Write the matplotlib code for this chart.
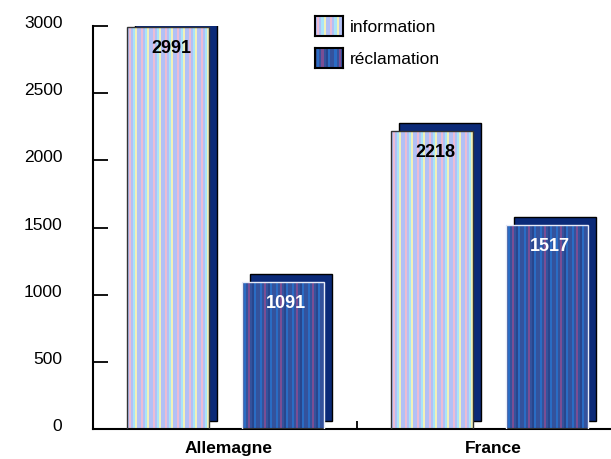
import matplotlib

matplotlib.use("Agg")
import matplotlib.pyplot as plt
import numpy as np
from matplotlib.colors import to_rgb
from matplotlib.transforms import ScaledTranslation

# data
countries = ["Allemagne", "France"]
information = [2991, 2218]
reclamation = [1091, 1517]
series_names = ["information", "réclamation"]
yticks = [0, 500, 1000, 1500, 2000, 2500, 3000]

plt.rcParams["font.family"] = ["Liberation Sans", "DejaVu Sans"]

# striped fills, one colour per column (about 2 px each)
lav, pink, cyan, yel = "#b2c0f6", "#ecbcd4", "#a8e4f8", "#f2f0b8"
info_cycle = [lav, pink, lav, cyan, yel, lav]
base, blue, mag, dark = "#34529c", "#2a6cc4", "#7a4e94", "#28468e"
recl_cycle = [base, blue, base, mag, base, dark, blue, base]


def stripes(cycle, ncols):
    cols = [to_rgb(cycle[i % len(cycle)]) for i in range(ncols)]
    return np.array([cols])


fig = plt.figure(figsize=(6.11, 4.6), dpi=100)
ax = fig.add_axes([93 / 611, 30 / 460, 518 / 611, 403 / 460])

x = np.arange(len(countries))
w = 0.31
offsets = [-0.386, 0.05]
series = [information, reclamation]
cycles = [info_cycle, recl_cycle]
edges = ["#333333", "#e8ecf8"]
txtcol = ["black", "white"]

# drop shadow: same bar shifted 8 px right and up
shadow = ax.transData + ScaledTranslation(8 / 100, 8 / 100, fig.dpi_scale_trans)

for vals, off, cyc, ec, tc in zip(series, offsets, cycles, edges, txtcol):
    for xi, v in zip(x, vals):
        x0 = xi + off
        ax.bar(x0, v, w, align="edge", color="#0b2a78", edgecolor="black",
               linewidth=1, transform=shadow, zorder=1)
        ax.imshow(stripes(cyc, 41), extent=(x0, x0 + w, 0, v), aspect="auto",
                  interpolation="nearest", zorder=2)
        ax.bar(x0, v, w, align="edge", facecolor="none", edgecolor=ec,
               linewidth=1, zorder=3)
        ax.annotate(str(v), (x0 + w / 2, v), xytext=(3, -20),
                    textcoords="offset pixels", ha="center", va="center",
                    fontsize=13, fontweight="bold", color=tc, zorder=4)

ax.set_xlim(-0.515, 1.447)
ax.set_ylim(0, 3000)

ax.spines["top"].set_visible(False)
ax.spines["right"].set_visible(False)
ax.spines["left"].set_linewidth(1.5)
ax.spines["bottom"].set_linewidth(1.5)

ax.set_yticks(yticks)
ax.tick_params(axis="y", direction="in", length=11, width=1.3, pad=22,
               labelsize=12.5)
for lab in ax.get_yticklabels():
    lab.set_transform(lab.get_transform()
                      + ScaledTranslation(0, 5 / 100, fig.dpi_scale_trans))

ax.set_xticks(x, countries, fontweight="bold")
ax.tick_params(axis="x", length=0, pad=8, labelsize=12.5)
ax.set_xticks([0.485], minor=True)
ax.tick_params(axis="x", which="minor", direction="in", length=6, width=1.3)

# legend drawn by hand so the swatches keep their stripes
for i, (name, cyc) in enumerate(zip(series_names, cycles)):
    top = 17 + i * 32
    sw = fig.add_axes([315 / 611, (460 - top - 20) / 460, 28 / 611, 20 / 460])
    sw.imshow(stripes(cyc, 13), aspect="auto", interpolation="nearest")
    sw.set_xticks([])
    sw.set_yticks([])
    for s in sw.spines.values():
        s.set_linewidth(1.5)
    fig.text(350 / 611, (460 - top - 10) / 460, name, fontsize=12.5,
             va="center", ha="left")

fig.savefig("out.png", dpi=100)
